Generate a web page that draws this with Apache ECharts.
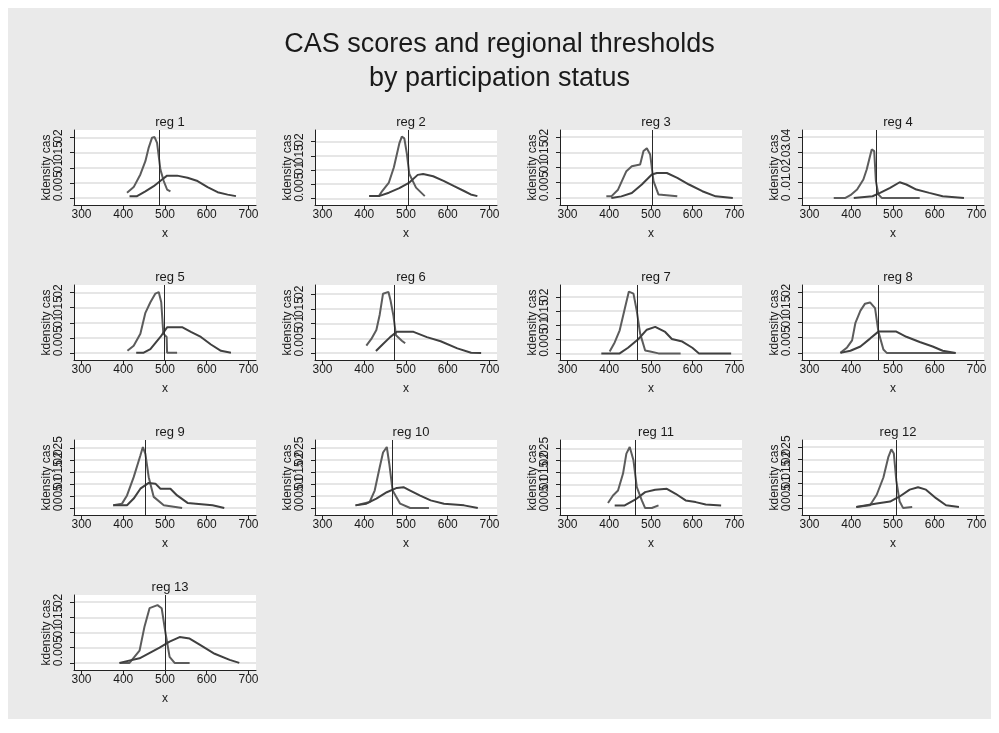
<!DOCTYPE html>
<html>
<head>
<meta charset="utf-8">
<title>CAS scores and regional thresholds</title>
<script src="https://cdn.jsdelivr.net/npm/echarts@6/dist/echarts.min.js"></script>
<style>
    html, body { margin: 0; padding: 0; background: #ffffff; }
    #chart { position: absolute; left: 8px; top: 8px; width: 983px; height: 711px; }
</style>
</head>
<body>
<div id="chart"></div>
<script>
// Panel names and regional thresholds (vertical lines)
const regions = ['reg 1', 'reg 2', 'reg 3', 'reg 4', 'reg 5', 'reg 6', 'reg 7',
    'reg 8', 'reg 9', 'reg 10', 'reg 11', 'reg 12', 'reg 13'];
const thresholds = [487, 506, 502, 459, 498, 471, 468, 465, 453, 466, 463, 507, 500];

// Tick values
const xTicks = [300, 400, 500, 600, 700];
const yTicks20 = [0, 0.005, 0.01, 0.015, 0.02];
const yTicks25 = [0, 0.005, 0.01, 0.015, 0.02, 0.025];
const yTicks40 = [0, 0.01, 0.02, 0.03, 0.04];
const yTickSets = [yTicks20, yTicks20, yTicks20, yTicks40, yTicks20, yTicks20, yTicks20,
    yTicks20, yTicks25, yTicks25, yTicks25, yTicks25, yTicks20];

// Density curves: [cas, density]
// "peaked" = narrow curve, "broad" = wide curve
const peaked1 = [[409, .0017], [425, .0036], [441, .0078], [453, .0122], [461, .0167], [469, .0200], [475, .0202], [481, .0183], [489, .0094], [497, .0056], [505, .0028], [513, .0022]];
const broad1 = [[415, .0006], [433, .0006], [453, .0022], [473, .0039], [493, .0061], [505, .0074], [529, .0074], [554, .0067], [578, .0056], [602, .0036], [626, .0019], [650, .0011], [670, .0006]];

const peaked2 = [[412, .0008], [435, .0008], [443, .0026], [459, .0056], [471, .0110], [484, .0194], [490, .0218], [496, .0212], [502, .0158], [508, .0086], [524, .0038], [545, .0008]];
const broad2 = [[412, .0008], [435, .0008], [459, .0020], [484, .0036], [508, .0056], [528, .0083], [541, .0086], [565, .0078], [590, .0062], [614, .0044], [639, .0026], [655, .0014], [671, .0008]];

const peaked3 = [[393, .0005], [405, .0005], [421, .0027], [441, .0088], [454, .0104], [474, .0110], [482, .0154], [490, .0163], [498, .0143], [506, .0055], [518, .0011], [563, .0005]];
const broad3 = [[405, .0000], [429, .0005], [454, .0016], [478, .0044], [502, .0077], [514, .0082], [538, .0082], [563, .0066], [591, .0044], [623, .0022], [655, .0005], [696, .0000]];

const peaked4 = [[358, .0000], [386, .0000], [398, .0018], [414, .0055], [429, .0121], [437, .0187], [444, .0264], [449, .0319], [455, .0308], [459, .0110], [465, .0022], [473, .0000], [564, .0000]];
const broad4 = [[406, .0000], [451, .0011], [469, .0033], [493, .0066], [516, .0103], [532, .0088], [556, .0055], [587, .0033], [619, .0011], [670, .0000]];

const peaked5 = [[410, .0007], [425, .0024], [441, .0064], [453, .0133], [465, .0168], [477, .0197], [485, .0202], [491, .0168], [496, .0064], [504, .0053], [505, .0001], [529, .0001]];
const broad5 = [[431, .0001], [449, .0001], [465, .0013], [489, .0053], [505, .0085], [542, .0085], [562, .0070], [586, .0053], [610, .0028], [634, .0007], [658, .0001]];

const peaked6 = [[405, .0025], [417, .0048], [429, .0078], [437, .0130], [445, .0201], [458, .0207], [463, .0178], [470, .0125], [476, .0060], [490, .0042], [498, .0033]];
const broad6 = [[428, .0007], [445, .0031], [462, .0054], [478, .0072], [518, .0072], [550, .0054], [583, .0040], [623, .0016], [656, .0001], [680, .0000]];

const peaked7 = [[401, .0007], [413, .0039], [425, .0082], [437, .0157], [447, .0219], [458, .0212], [466, .0150], [474, .0070], [486, .0010], [498, .0007], [518, .0000], [571, .0000]];
const broad7 = [[381, .0000], [425, .0000], [445, .0020], [470, .0051], [490, .0084], [510, .0094], [534, .0076], [550, .0051], [575, .0042], [599, .0020], [615, .0000], [692, .0000]];

const peaked8 = [[374, .0000], [390, .0018], [402, .0041], [410, .0099], [422, .0139], [433, .0162], [445, .0166], [457, .0147], [465, .0070], [477, .0011], [485, .0000], [650, .0000]];
const broad8 = [[374, .0000], [398, .0007], [422, .0021], [445, .0047], [465, .0070], [508, .0070], [532, .0053], [564, .0036], [595, .0021], [619, .0007], [650, .0000]];

const peaked9 = [[376, .0011], [397, .0018], [409, .0052], [425, .0128], [441, .0218], [447, .0253], [453, .0225], [461, .0128], [473, .0046], [497, .0011], [541, .0000]];
const broad9 = [[376, .0011], [409, .0011], [425, .0039], [441, .0080], [461, .0104], [477, .0101], [489, .0080], [513, .0080], [529, .0052], [554, .0021], [614, .0011], [642, .0000]];

const peaked10 = [[379, .0011], [413, .0025], [425, .0073], [437, .0170], [445, .0232], [454, .0255], [460, .0184], [468, .0073], [486, .0018], [510, .0000], [555, .0000]];
const broad10 = [[379, .0011], [405, .0018], [429, .0039], [454, .0066], [478, .0084], [494, .0087], [510, .0073], [534, .0052], [559, .0032], [591, .0018], [639, .0011], [672, .0000]];

const peaked11 = [[397, .0021], [409, .0053], [421, .0074], [433, .0145], [441, .0229], [449, .0257], [458, .0201], [466, .0088], [478, .0032], [486, .0000], [502, .0000], [518, .0011]];
const broad11 = [[413, .0011], [437, .0011], [462, .0035], [486, .0067], [510, .0077], [538, .0081], [559, .0060], [583, .0032], [607, .0025], [631, .0015], [668, .0011]];

const peaked12 = [[412, .0004], [445, .0011], [461, .0054], [477, .0125], [489, .0210], [496, .0241], [502, .0224], [508, .0111], [516, .0026], [524, .0000], [546, .0004]];
const broad12 = [[412, .0004], [461, .0018], [493, .0026], [516, .0047], [540, .0075], [560, .0085], [579, .0075], [603, .0040], [627, .0011], [658, .0004]];

const peaked13 = [[391, .0000], [415, .0000], [439, .0040], [451, .0120], [463, .0180], [482, .0190], [492, .0180], [501, .0100], [511, .0020], [523, .0000], [559, .0000]];
const broad13 = [[391, .0000], [439, .0015], [487, .0050], [511, .0070], [535, .0085], [559, .0080], [583, .0060], [619, .0030], [655, .0010], [678, .0000]];

const peakedCurves = [peaked1, peaked2, peaked3, peaked4, peaked5, peaked6, peaked7,
    peaked8, peaked9, peaked10, peaked11, peaked12, peaked13];
const broadCurves = [broad1, broad2, broad3, broad4, broad5, broad6, broad7,
    broad8, broad9, broad10, broad11, broad12, broad13];

// Layout (page pixels)
const OFFSET = 8;
const colLeft = [74, 315, 560, 802];
const rowTop = [130, 285, 440, 595];
const plotW = 182;
const plotH = 75;
const X_MIN = 282, X_MAX = 718;

const textColor = '#1a1a1a';
const fontFamily = '"Liberation Sans", Arial, sans-serif';

function fmtY(v) {
    if (v === 0) return '0';
    return String(+v.toFixed(3)).replace(/^0\./, '.');
}

// Stata draws every y label even when they overlap, so draw them ourselves
function renderYLabel(params, api) {
    const pt = api.coord([api.value(0), api.value(1)]);
    return {
        type: 'text',
        x: pt[0] - 9,
        y: pt[1],
        rotation: Math.PI / 2,
        silent: true,
        style: {
            text: fmtY(api.value(1)),
            fill: textColor,
            font: '12px ' + fontFamily,
            align: 'center',
            verticalAlign: 'bottom'
        }
    };
}

const grids = [], xAxes = [], yAxes = [], series = [], titles = [];

titles.push({
    text: 'CAS scores and regional thresholds\nby participation status',
    left: 'center',
    top: 23 - OFFSET,
    textStyle: { fontFamily: fontFamily, fontSize: 27, fontWeight: 'normal', color: textColor, lineHeight: 34 }
});

regions.forEach((name, i) => {
    const left = colLeft[i % 4] - OFFSET;
    const top = rowTop[Math.floor(i / 4)] - OFFSET;
    const ticks = yTickSets[i];
    const topTick = ticks[ticks.length - 1];
    const dataMax = Math.max(...peakedCurves[i].map(p => p[1]), ...broadCurves[i].map(p => p[1]));
    const hi = Math.max(topTick, dataMax);
    const pad = topTick * 0.117;

    grids.push({
        left: left, top: top, width: plotW, height: plotH,
        show: true, backgroundColor: '#ffffff', borderWidth: 0
    });

    titles.push({
        text: name,
        left: left + plotW / 2,
        top: top - 19,
        textAlign: 'center',
        textStyle: { fontFamily: fontFamily, fontSize: 13, fontWeight: 'normal', color: textColor }
    });

    xAxes.push({
        type: 'value', gridIndex: i, min: X_MIN, max: X_MAX,
        name: 'x', nameLocation: 'middle', nameGap: 23,
        nameTextStyle: { fontFamily: fontFamily, fontSize: 12, color: textColor },
        axisLine: { show: true, onZero: false, lineStyle: { color: '#222', width: 1 } },
        axisTick: { show: true, length: 4, customValues: xTicks, lineStyle: { color: '#222' } },
        axisLabel: {
            customValues: xTicks, margin: 4, showMinLabel: true, showMaxLabel: true,
            fontFamily: fontFamily, fontSize: 12, color: textColor
        },
        splitLine: { show: false }
    });

    yAxes.push({
        type: 'value', gridIndex: i, min: -pad, max: hi + pad,
        name: 'kdensity cas', nameLocation: 'middle', nameGap: 21, nameRotate: 90,
        nameTextStyle: { fontFamily: fontFamily, fontSize: 12, color: textColor },
        axisLine: { show: true, onZero: false, lineStyle: { color: '#222', width: 1 } },
        axisTick: { show: true, length: 4, customValues: ticks, lineStyle: { color: '#222' } },
        axisLabel: { show: false, customValues: ticks },
        splitLine: { show: true, lineStyle: { color: '#e6e6e6', width: 2 } }
    });

    series.push({
        type: 'line', xAxisIndex: i, yAxisIndex: i,
        data: peakedCurves[i], showSymbol: false, silent: true,
        lineStyle: { color: '#5c5c5c', width: 2 },
        markLine: {
            silent: true, symbol: 'none', label: { show: false },
            lineStyle: { color: '#2a2a2a', width: 1, type: 'solid' },
            data: [{ xAxis: thresholds[i] }]
        }
    });
    series.push({
        type: 'line', xAxisIndex: i, yAxisIndex: i,
        data: broadCurves[i], showSymbol: false, silent: true,
        lineStyle: { color: '#404040', width: 2 }
    });
    series.push({
        type: 'custom', xAxisIndex: i, yAxisIndex: i, silent: true, clip: false,
        data: ticks.map(t => [X_MIN, t]),
        renderItem: renderYLabel
    });
});

const chart = echarts.init(document.getElementById('chart'));
chart.setOption({
    backgroundColor: '#eaeaea',
    animation: false,
    title: titles,
    grid: grids,
    xAxis: xAxes,
    yAxis: yAxes,
    series: series
});
</script>
</body>
</html>
